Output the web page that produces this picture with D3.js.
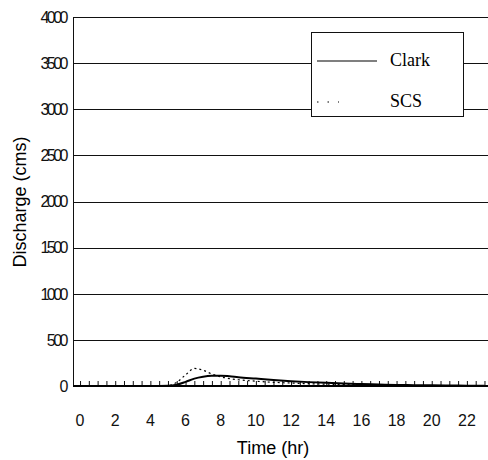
<!DOCTYPE html>
<html>
<head>
<meta charset="utf-8">
<script src="https://cdn.jsdelivr.net/npm/d3@7"></script>
<style>
  body { margin: 0; background: #fff; }
  svg { display: block; }
  .tick-lbl { font-family: "Liberation Sans", Arial, sans-serif; font-size: 16px; fill: #111; }
</style>
</head>
<body>
<div id="chart"></div>
<script>
// hydrograph data (hr, cms)
const times = [0, 1, 2, 3, 4, 5, 5.5, 6, 6.5, 7, 7.5, 8, 8.5, 9, 10, 11, 12, 13, 14, 15, 16, 17, 18, 19, 20, 21, 22, 23];
const clark = [0, 0, 0, 0, 0, 2, 15, 45, 80, 100, 110, 112, 105, 95, 80, 65, 52, 42, 34, 27, 21, 16, 12, 9, 7, 5, 4, 3];
const scs   = [0, 0, 0, 0, 0, 5, 40, 120, 190, 170, 130, 100, 80, 68, 52, 40, 32, 25, 20, 15, 11, 8, 6, 4, 3, 2, 1, 1];
const xTicks = [0, 2, 4, 6, 8, 10, 12, 14, 16, 18, 20, 22];
const yTicks = [0, 500, 1000, 1500, 2000, 2500, 3000, 3500, 4000];
const legendKeys = ["Clark", "SCS"];

const W = 488, H = 460;
const margin = { top: 17, right: 0, bottom: 74, left: 73 };

const svg = d3.select("#chart").append("svg")
    .attr("width", W)
    .attr("height", H);

const x = d3.scaleLinear()
    .domain([-0.4, 23.2])
    .range([margin.left, W - margin.right]);

const y = d3.scaleLinear()
    .domain([0, 4000])
    .range([H - margin.bottom, margin.top]);

// horizontal grid lines
svg.append("g")
    .selectAll("line")
    .data(yTicks)
    .enter().append("line")
    .attr("x1", margin.left)
    .attr("x2", W)
    .attr("y1", d => Math.round(y(d)) + 0.5)
    .attr("y2", d => Math.round(y(d)) + 0.5)
    .attr("stroke", "#111")
    .attr("stroke-width", 1);

// y labels
svg.append("g")
    .selectAll("text")
    .data(yTicks)
    .enter().append("text")
    .attr("class", "tick-lbl")
    .attr("x", 66)
    .attr("y", d => y(d))
    .attr("dy", "0.36em")
    .attr("text-anchor", "end")
    .style("letter-spacing", "-2.5px")
    .text(d => d);

// left axis line
svg.append("line")
    .attr("x1", margin.left + 0.5)
    .attr("x2", margin.left + 0.5)
    .attr("y1", y(4000))
    .attr("y2", y(0))
    .attr("stroke", "#111");

// x axis: inward half-hour ticks, labels every 2 hr
const xAxis = d3.axisBottom(x)
    .tickValues(d3.range(0, 23.1, 0.5))
    .tickSize(-5)
    .tickFormat("");
svg.append("g")
    .attr("transform", `translate(0,${y(0)})`)
    .call(xAxis)
    .call(g => g.select(".domain").remove())
    .call(g => g.selectAll(".tick line").attr("stroke", "#111"));

svg.append("g")
    .selectAll("text")
    .data(xTicks)
    .enter().append("text")
    .attr("class", "tick-lbl")
    .attr("x", d => x(d))
    .attr("y", 426)
    .attr("text-anchor", "middle")
    .style("font-weight", "300")
    .text(d => d);

// data lines
const line = d3.line()
    .x((d, i) => x(times[i]))
    .y(d => y(d))
    .curve(d3.curveMonotoneX);

svg.append("path")
    .datum(clark)
    .attr("fill", "none")
    .attr("stroke", "#000")
    .attr("stroke-width", 2)
    .attr("d", line);

svg.append("path")
    .datum(scs)
    .attr("fill", "none")
    .attr("stroke", "#000")
    .attr("stroke-width", 1.2)
    .attr("stroke-dasharray", "2,3")
    .attr("d", line);

// baseline
svg.append("line")
    .attr("x1", margin.left)
    .attr("x2", W)
    .attr("y1", y(0))
    .attr("y2", y(0))
    .attr("stroke", "#000")
    .attr("stroke-width", 2);

// axis titles
svg.append("text")
    .attr("x", 273)
    .attr("y", 454)
    .attr("text-anchor", "middle")
    .style("font-family", "'Liberation Sans', Arial, sans-serif")
    .style("font-size", "18px")
    .text("Time (hr)");

svg.append("text")
    .attr("transform", "translate(26,202) rotate(-90)")
    .attr("text-anchor", "middle")
    .style("font-family", "'Liberation Sans', Arial, sans-serif")
    .style("font-size", "18px")
    .text("Discharge (cms)");

// legend
const legend = svg.append("g");
legend.append("rect")
    .attr("x", 311.5)
    .attr("y", 32.5)
    .attr("width", 152)
    .attr("height", 84)
    .attr("fill", "#fff")
    .attr("stroke", "#111");

const legendItems = legend.selectAll(".legend-item")
    .data(legendKeys)
    .enter().append("g")
    .attr("class", "legend-item")
    .attr("transform", (d, i) => `translate(317, ${61 + i * 41})`);

legendItems.append("line")
    .attr("x1", 0)
    .attr("x2", d => d === "Clark" ? 60 : 22)
    .attr("y1", 0)
    .attr("y2", 0)
    .attr("stroke", "#000")
    .attr("stroke-width", 1.2)
    .attr("stroke-dasharray", d => d === "Clark" ? null : "1.5,9");

legendItems.append("text")
    .attr("x", 73)
    .attr("y", 0)
    .attr("dy", "0.3em")
    .style("font-family", "'Liberation Serif', 'Times New Roman', serif")
    .style("font-size", "18px")
    .text(d => d);
</script>
</body>
</html>
